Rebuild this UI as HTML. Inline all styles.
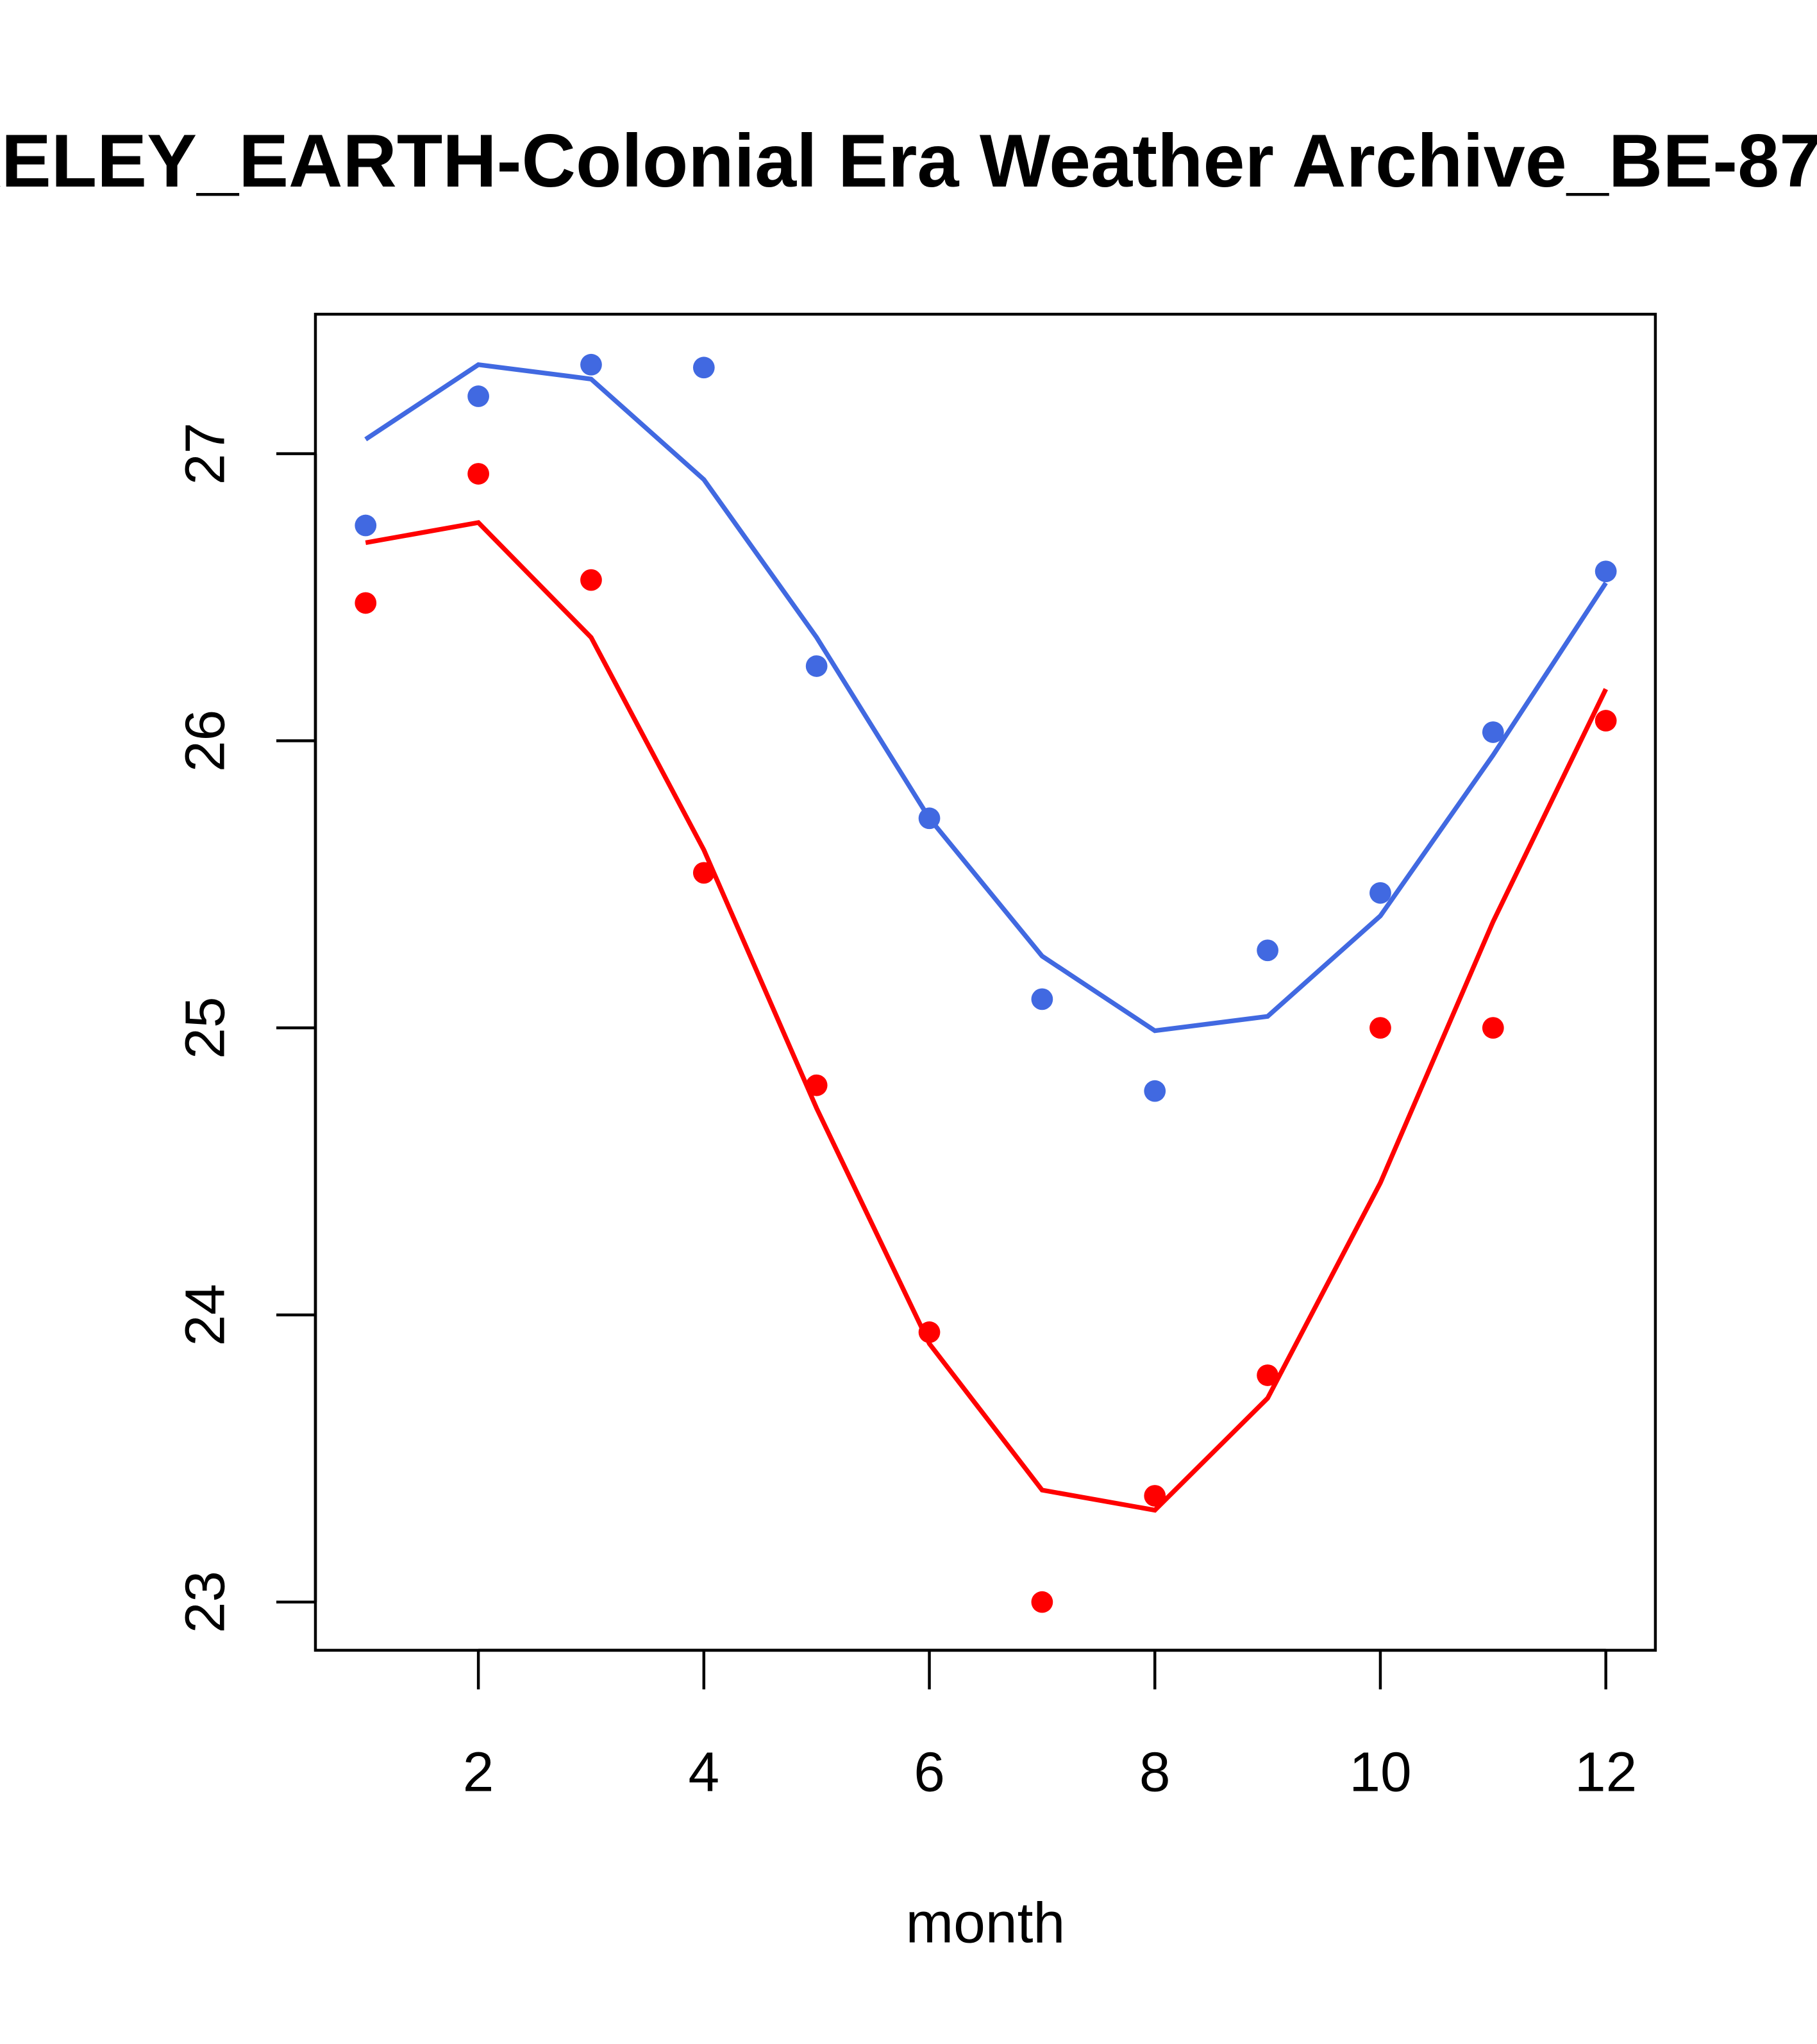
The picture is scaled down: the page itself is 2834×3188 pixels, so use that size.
<!DOCTYPE html>
<html><head><meta charset="utf-8"><style>html,body{margin:0;padding:0;background:#fff;overflow:hidden}</style></head>
<body>
<svg id="chart" width="2834" height="3188" viewBox="0 0 1394 1568" xmlns="http://www.w3.org/2000/svg" style="display:block;font-family:'Liberation Sans',sans-serif">
<rect width="1394" height="1568" fill="#fff"/>
<text x="-162" y="143" font-size="57.5" font-weight="bold">BERKELEY_EARTH-Colonial Era Weather Archive_BE-8765</text>
<rect x="242" y="241" width="1028" height="1025" fill="none" stroke="#000" stroke-width="2.2"/>
<g id="xaxis"></g>
<g id="yaxis"></g>
<text x="756" y="1490" font-size="44" text-anchor="middle">month</text>
<g id="series"></g>
</svg>
<script>
const months = [1,2,3,4,5,6,7,8,9,10,11,12];
const bluePoints = [26.75,27.20,27.31,27.30,26.26,25.73,25.10,24.78,25.27,25.47,26.03,26.59];
const blueLine = [27.05,27.31,27.26,26.91,26.36,25.73,25.25,24.99,25.04,25.39,25.95,26.55];
const redPoints = [26.48,26.93,26.56,25.54,24.80,23.94,23.00,23.37,23.79,25.00,25.00,26.07];
const redLine = [26.69,26.76,26.36,25.62,24.72,23.90,23.39,23.32,23.71,24.46,25.37,26.18];
const xTicks = [2,4,6,8,10,12];
const yTicks = [23,24,25,26,27];

const NS = "http://www.w3.org/2000/svg";
function xs(m){ return 280.5 + (m-1)*86.5; }
function ys(v){ return 348 + (27-v)*220.25; }
function mk(tag, attrs, parent){
  const e = document.createElementNS(NS, tag);
  for (const k in attrs) e.setAttribute(k, attrs[k]);
  parent.appendChild(e); return e;
}
const xa = document.getElementById('xaxis');
mk('line',{x1:xs(2),x2:xs(12),y1:1266,y2:1266,stroke:'#000','stroke-width':2.2},xa);
xTicks.forEach(t=>{
  const l = mk('line',{x1:xs(t),x2:xs(t),y1:1266,y2:1296,stroke:'#000','stroke-width':2.2},xa);
  
  
  const tx = mk('text',{x:xs(t),y:1374,'font-size':43,'text-anchor':'middle'},xa);
  tx.textContent = t;
  
  
});
const ya = document.getElementById('yaxis');
mk('line',{x1:242,x2:242,y1:ys(23),y2:ys(27),stroke:'#000','stroke-width':2.2},ya);
yTicks.forEach(t=>{
  const l = mk('line',{x1:212,x2:242,y1:ys(t),y2:ys(t),stroke:'#000','stroke-width':2.2},ya);
  
  
  const tx = mk('text',{x:0,y:0,'font-size':43,'text-anchor':'middle',transform:`translate(172,${ys(t)}) rotate(-90)`},ya);
  tx.textContent = t;
  
  
});
const sg = document.getElementById('series');
function line(vals, color, name){
  const p = mk('polyline',{points:vals.map((v,i)=>xs(months[i])+','+ys(v)).join(' '),fill:'none',stroke:color,'stroke-width':3.6},sg);
  
  
}
function pts(vals, color, name){
  vals.forEach((v,i)=>{
    const c = mk('circle',{cx:xs(months[i]),cy:ys(v),r:8.3,fill:color},sg);
    
    
  });
}
line(blueLine,'#4169E1','blue-fit-line');
line(redLine,'#FF0000','red-fit-line');
pts(bluePoints,'#4169E1','blue-point');
pts(redPoints,'#FF0000','red-point');
</script>
</body></html>
